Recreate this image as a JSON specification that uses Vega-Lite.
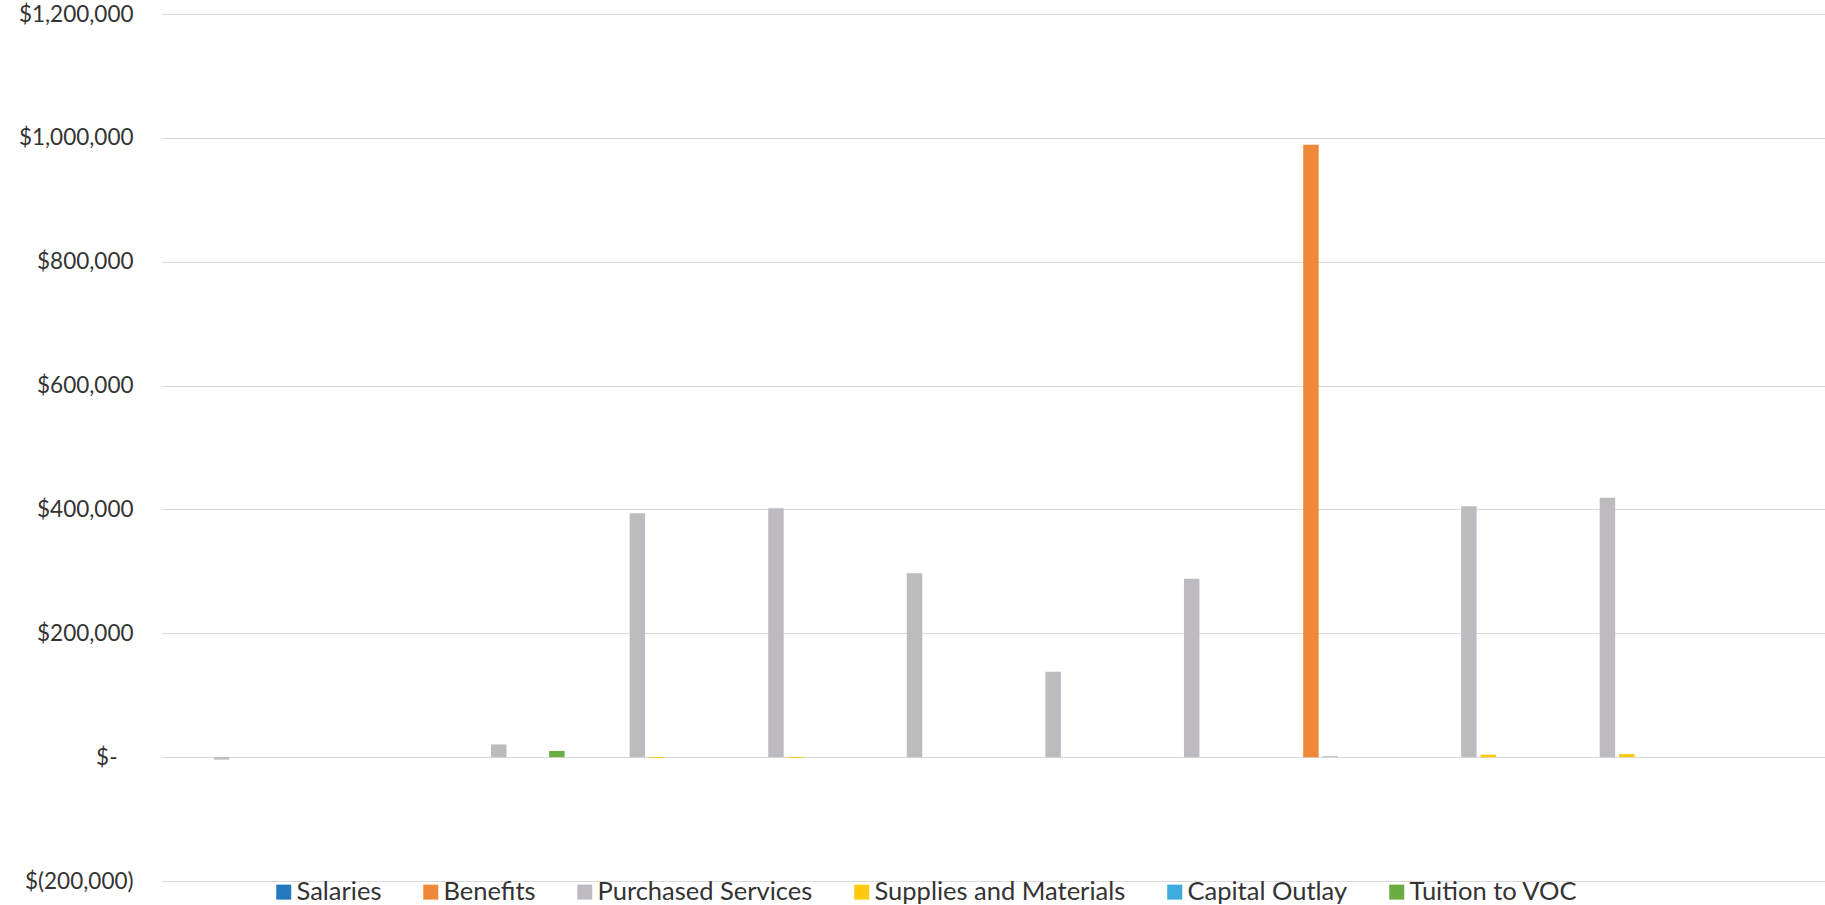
{
  "$schema": "https://vega.github.io/schema/vega-lite/v6.json",
  "width": 1663,
  "height": 867,
  "autosize": {"type": "none"},
  "padding": {"left": 162, "top": 14, "right": 0, "bottom": 24},
  "background": "white",
  "config": {"view": {"stroke": null}, "font": "Lato"},
  "data": {
    "values": [
      {"month": "Jul", "category": "Purchased Services", "amount": -4000},
      {"month": "Sep", "category": "Purchased Services", "amount": 20500},
      {"month": "Sep", "category": "Tuition to VOC", "amount": 10000},
      {"month": "Oct", "category": "Purchased Services", "amount": 394000},
      {"month": "Oct", "category": "Supplies and Materials", "amount": -1500},
      {"month": "Nov", "category": "Purchased Services", "amount": 402000},
      {"month": "Nov", "category": "Supplies and Materials", "amount": -1500},
      {"month": "Dec", "category": "Purchased Services", "amount": 297000},
      {"month": "Jan", "category": "Purchased Services", "amount": 138000},
      {"month": "Feb", "category": "Purchased Services", "amount": 288000},
      {"month": "Mar", "category": "Benefits", "amount": 989000},
      {"month": "Mar", "category": "Purchased Services", "amount": 1500},
      {"month": "Apr", "category": "Purchased Services", "amount": 405000},
      {"month": "Apr", "category": "Supplies and Materials", "amount": 4000},
      {"month": "May", "category": "Purchased Services", "amount": 419000},
      {"month": "May", "category": "Supplies and Materials", "amount": 5000}
    ]
  },
  "mark": {"type": "bar"},
  "encoding": {
    "x": {
      "field": "month",
      "type": "nominal",
      "scale": {
        "domain": ["Jul", "Aug", "Sep", "Oct", "Nov", "Dec", "Jan", "Feb", "Mar", "Apr", "May", "Jun"],
        "paddingInner": 0.19,
        "paddingOuter": 0.095
      },
      "axis": null
    },
    "xOffset": {
      "field": "category",
      "type": "nominal",
      "scale": {
        "domain": ["Salaries", "Benefits", "Purchased Services", "Supplies and Materials", "Capital Outlay", "Tuition to VOC"],
        "paddingInner": 0.2,
        "paddingOuter": 0
      }
    },
    "y": {
      "field": "amount",
      "type": "quantitative",
      "scale": {"domain": [-200000, 1200000], "nice": false, "zero": true},
      "axis": {
        "title": null,
        "values": [-200000, 0, 200000, 400000, 600000, 800000, 1000000, 1200000],
        "grid": true,
        "gridColor": "#dadada",
        "gridWidth": 1,
        "domain": false,
        "ticks": false,
        "labelFontSize": 22.5,
        "labelColor": "#333333",
        "labelPadding": {"condition": {"test": "datum.value == 0", "value": 45}, "value": 29},
        "labelExpr": "datum.value == 0 ? '$-' : datum.value < 0 ? '$(' + format(-datum.value, ',') + ')' : '$' + format(datum.value, ',')"
      }
    },
    "color": {
      "field": "category",
      "type": "nominal",
      "scale": {
        "domain": ["Salaries", "Benefits", "Purchased Services", "Supplies and Materials", "Capital Outlay", "Tuition to VOC"],
        "range": ["#2478C0", "#F0883A", "#BDBBC0", "#FFC90E", "#3DAAE0", "#6AAE43"]
      },
      "legend": {
        "orient": "none",
        "legendX": 109,
        "legendY": 865,
        "direction": "horizontal",
        "title": null,
        "symbolType": "square",
        "symbolSize": 225,
        "symbolStrokeWidth": 0,
        "labelFontSize": 25.5,
        "labelLimit": 0,
        "labelColor": "#333333",
        "columnPadding": 36,
        "labelOffset": 0,
        "padding": 0
      }
    }
  }
}
